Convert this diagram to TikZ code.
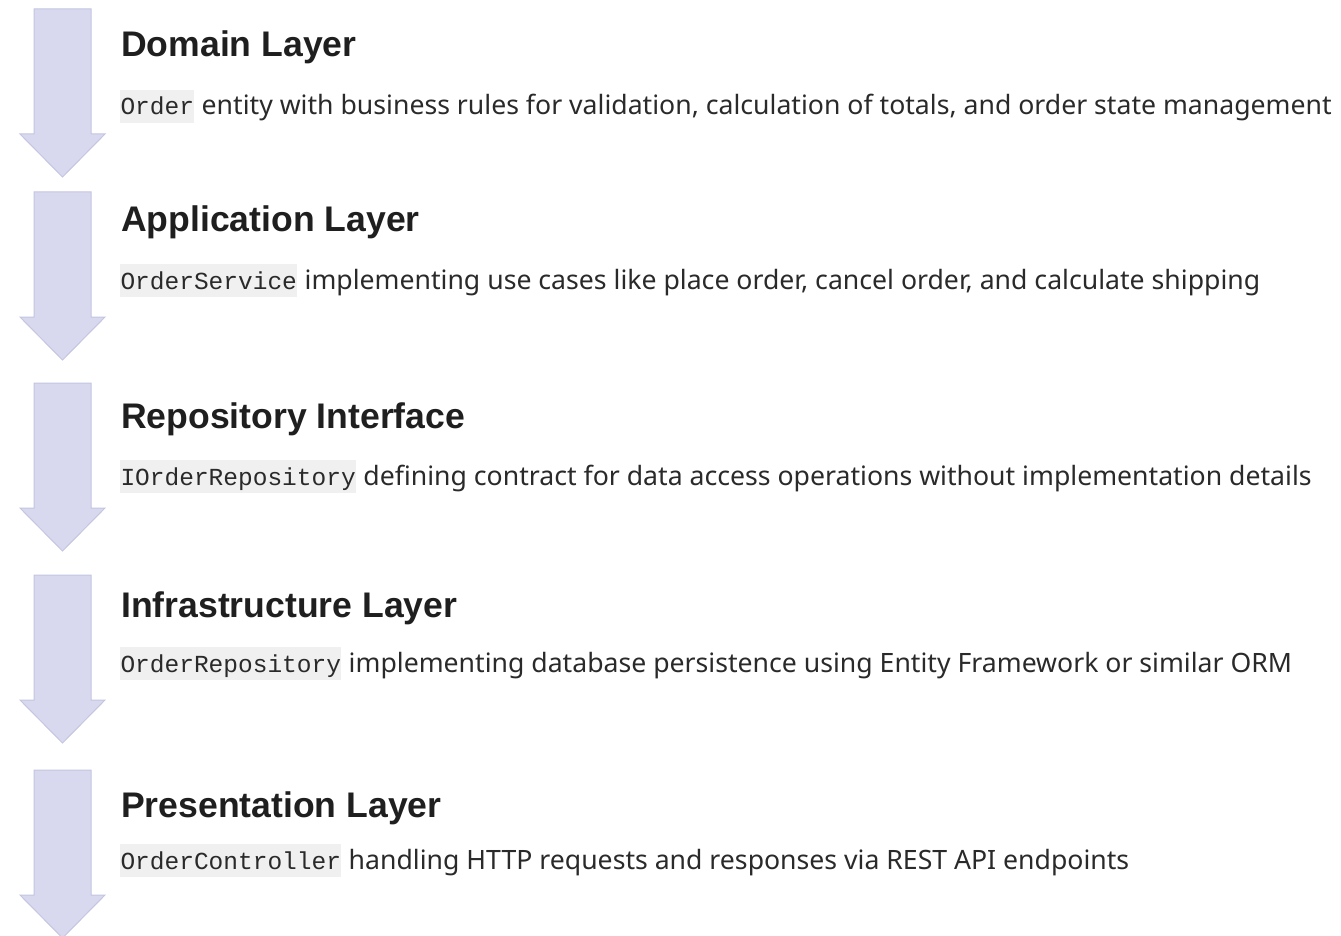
\documentclass[tikz,border=0pt]{standalone}
\usepackage{fontspec}
\setmainfont{Noto Sans}
\newfontfamily\titlefamily{Liberation Sans}
\newfontfamily\codefamily{Liberation Mono}
\definecolor{arrowfill}{HTML}{D8D9EF}
\definecolor{arrowline}{HTML}{C4C5E1}
\definecolor{titlecol}{HTML}{1F1F1F}
\definecolor{bodycol}{HTML}{2A2A2A}
\definecolor{codecol}{HTML}{2A2A2A}
\definecolor{codebg}{HTML}{F0F0F0}
\newlength\fitw
\newcommand\fitsize[3]{%
  \settowidth\fitw{#1\fontsize{10}{12}\selectfont #2}%
  \pgfmathsetmacro\fitresult{10*#3/\fitw}}
\newcommand\layerarrow[1]{%
  \draw[arrowshape] (34,#1) -- (91,#1) -- (91,{#1+125}) -- (105,{#1+125})
    -- (62.5,{#1+168}) -- (20,{#1+125}) -- (34,{#1+125}) -- cycle;}
\begin{document}
\fitsize{\titlefamily\bfseries}{Repository Interface}{344}\let\titlesize\fitresult
\fitsize{}{entity with business rules for validation, calculation of totals, and order state management}{1130}\let\bodysize\fitresult
\def\titlefnt{\titlefamily\bfseries\fontsize{\titlesize}{\titlesize}\selectfont}
\def\bodyfnt{\fontsize{\bodysize}{\bodysize}\selectfont}
\def\codefnt{\codefamily\fontsize{24.5}{24.5}\selectfont}
\begin{tikzpicture}[x=1pt,y=-1pt,
  arrowshape/.style={fill=arrowfill, draw=arrowline, line width=1pt, line join=miter},
  titletext/.style={anchor=base west, inner sep=0pt, text=titlecol, font=\titlefnt},
  codebox/.style={anchor=base west, fill=codebg, inner xsep=0.3pt, inner ysep=0pt,
    text height=25pt, text depth=8pt, text=codecol, font=\codefnt},
  bodytext/.style={anchor=base west, inner sep=0pt, text=bodycol, font=\bodyfnt}]
\fill[white] (0,0) rectangle (1341,936);
\useasboundingbox (0,0) rectangle (1341,936);
\begin{scope}
\clip (0,0) rectangle (1341,936);
\layerarrow{9}
\layerarrow{192}
\layerarrow{383}
\layerarrow{575}
\layerarrow{770}
\end{scope}
% Layer 1
\node[titletext] (t1) at (121,57) {Domain Layer};
\node[codebox] (c1) at (120,115) {Order};
\node[bodytext] (b1) at ([xshift=7pt]c1.base east) {entity with business rules for validation, calculation of totals, and order state management};
% Layer 2
\node[titletext] (t2) at (121,231) {Application Layer};
\node[codebox] (c2) at (120,289) {OrderService};
\node[bodytext] (b2) at ([xshift=7pt]c2.base east) {implementing use cases like place order, cancel order, and calculate shipping};
% Layer 3
\node[titletext] (t3) at (121,428) {Repository Interface};
\node[codebox] (c3) at (120,485) {IOrderRepository};
\node[bodytext] (b3) at ([xshift=7pt]c3.base east) {defining contract for data access operations without implementation details};
% Layer 4
\node[titletext] (t4) at (121,617) {Infrastructure Layer};
\node[codebox] (c4) at (120,672) {OrderRepository};
\node[bodytext] (b4) at ([xshift=7pt]c4.base east) {implementing database persistence using Entity Framework or similar ORM};
% Layer 5
\node[titletext] (t5) at (121,817) {Presentation Layer};
\node[codebox] (c5) at (120,869) {OrderController};
\node[bodytext] (b5) at ([xshift=7pt]c5.base east) {handling HTTP requests and responses via REST API endpoints};
\end{tikzpicture}
\end{document}
